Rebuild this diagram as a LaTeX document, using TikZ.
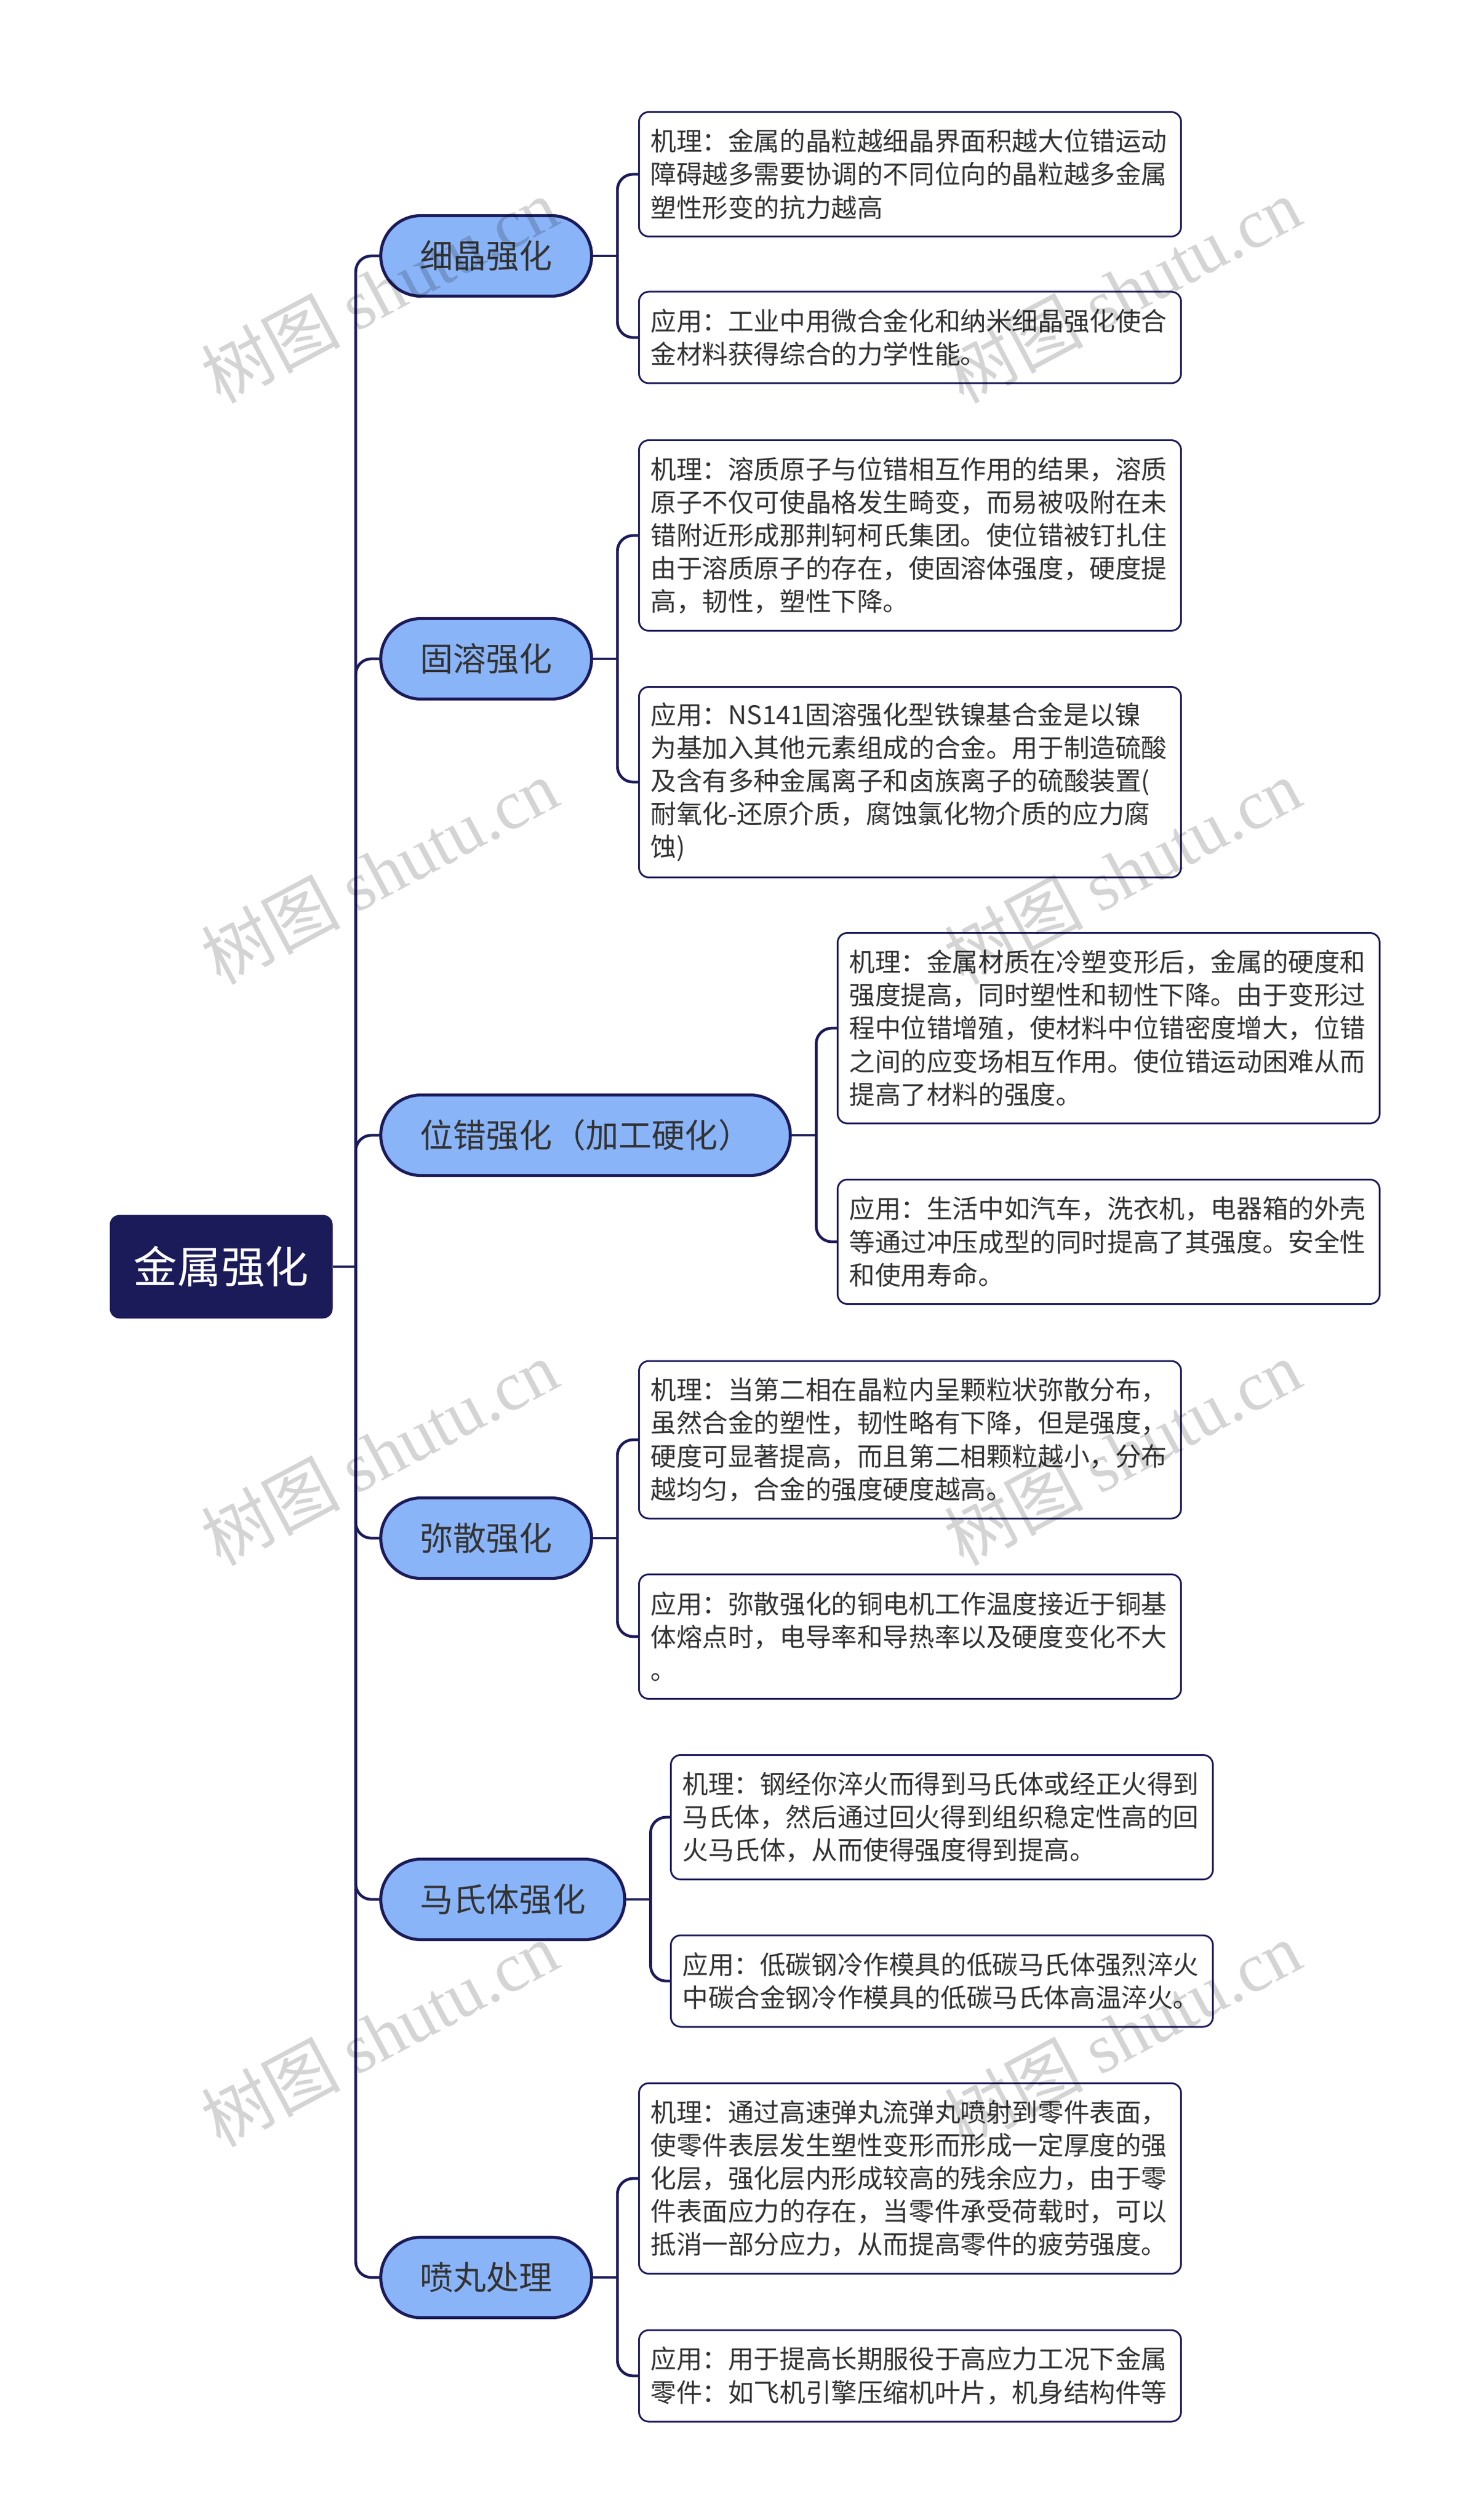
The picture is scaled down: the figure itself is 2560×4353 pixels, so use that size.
\documentclass[tikz,border=0pt]{standalone}
\usepackage{fontspec}
\setmainfont{Noto Sans CJK SC}
\newfontfamily\wmfont{Liberation Serif}
\usepackage{xcolor}
\usepackage{tikz}
\usetikzlibrary{positioning}
\definecolor{dunkelblau}{HTML}{1C1B5A}
\definecolor{hellblau}{HTML}{8AB4F8}
\definecolor{textgrau}{HTML}{333333}
\tikzset{
  Wurzel/.style={fill=dunkelblau, text=white, rounded corners=4.25pt,
    minimum width=96.25pt, minimum height=44.75pt,
    font=\fontsize{18.9pt}{22pt}\selectfont}, % Hauptthema
  Ast/.style={draw=dunkelblau, line width=1.3pt, fill=hellblau, text=textgrau,
    rounded corners=17.3pt, minimum height=34.75pt, inner xsep=16.9pt, inner ysep=0pt,
    anchor=west, font=\fontsize{14.3pt}{17pt}\selectfont}, % Zweige
  Blatt/.style={draw=dunkelblau, line width=0.75pt, fill=white, text=textgrau,
    rounded corners=4.2pt, text width=224pt, align=left, inner xsep=5pt, inner ysep=4pt,
    minimum height=11pt+14.25pt*#1, anchor=west,
    font=\fontsize{11.15pt}{14.3pt}\selectfont}, % Textkaesten, #1 = Zeilen
  Linie/.style={draw=dunkelblau, line width=1.2pt, rounded corners=6.75pt}, % Verbindungen
  Marke/.style={text=black, opacity=0.17, rotate=28,
    font=\fontsize{30pt}{30pt}\selectfont} % Wasserzeichen
}

\begin{document}
\begin{tikzpicture}[x=0.25pt, y=-0.25pt]
\useasboundingbox[fill=white] (0,0) rectangle (2560,4353);

%Thema
\node[Wurzel] (Metall) at (382,2188) {金属强化};

%Zweige
\node[Ast] (Feinkorn) at (655,442) {细晶强化};
\node[Ast] (Mischkristall) at (655,1138) {固溶强化};
\node[Ast] (Versetzung) at (655,1961) {位错强化（加工硬化）};
\node[Ast] (Dispersion) at (655,2657) {弥散强化};
\node[Ast] (Martensit) at (655,3281) {马氏体强化};
\node[Ast] (Kugelstrahl) at (655,3934) {喷丸处理};

%Textkaesten
\node[Blatt=3] (Feinkorn-M) at (1102,301)
  {机理：金属的晶粒越细晶界面积越大位错运动\\障碍越多需要协调的不同位向的晶粒越多金属\\塑性形变的抗力越高};
\node[Blatt=2] (Feinkorn-A) at (1102,583)
  {应用：工业中用微合金化和纳米细晶强化使合\\金材料获得综合的力学性能。};

\node[Blatt=5] (Mischkristall-M) at (1102,925)
  {机理：溶质原子与位错相互作用的结果，溶质\\原子不仅可使晶格发生畸变，而易被吸附在未\\错附近形成那荆轲柯氏集团。使位错被钉扎住\\由于溶质原子的存在，使固溶体强度，硬度提\\高，韧性，塑性下降。};
\node[Blatt=5] (Mischkristall-A) at (1102,1351)
  {应用：NS141固溶强化型铁镍基合金是以镍\\为基加入其他元素组成的合金。用于制造硫酸\\及含有多种金属离子和卤族离子的硫酸装置(\\耐氧化-还原介质，腐蚀氯化物介质的应力腐\\蚀)};

\node[Blatt=5] (Versetzung-M) at (1445,1776)
  {机理：金属材质在冷塑变形后，金属的硬度和\\强度提高，同时塑性和韧性下降。由于变形过\\程中位错增殖，使材料中位错密度增大，位错\\之间的应变场相互作用。使位错运动困难从而\\提高了材料的强度。};
\node[Blatt=3] (Versetzung-A) at (1445,2145)
  {应用：生活中如汽车，洗衣机，电器箱的外壳\\等通过冲压成型的同时提高了其强度。安全性\\和使用寿命。};

\node[Blatt=4] (Dispersion-M) at (1102,2487)
  {机理：当第二相在晶粒内呈颗粒状弥散分布，\\虽然合金的塑性，韧性略有下降，但是强度，\\硬度可显著提高，而且第二相颗粒越小，分布\\越均匀，合金的强度硬度越高。};
\node[Blatt=3] (Dispersion-A) at (1102,2827)
  {应用：弥散强化的铜电机工作温度接近于铜基\\体熔点时，电导率和导热率以及硬度变化不大\\。};

\node[Blatt=3] (Martensit-M) at (1157,3139)
  {机理：钢经你淬火而得到马氏体或经正火得到\\马氏体，然后通过回火得到组织稳定性高的回\\火马氏体，从而使得强度得到提高。};
\node[Blatt=2] (Martensit-A) at (1157,3422)
  {应用：低碳钢冷作模具的低碳马氏体强烈淬火\\中碳合金钢冷作模具的低碳马氏体高温淬火。};

\node[Blatt=5] (Kugelstrahl-M) at (1102,3763)
  {机理：通过高速弹丸流弹丸喷射到零件表面，\\使零件表层发生塑性变形而形成一定厚度的强\\化层，强化层内形成较高的残余应力，由于零\\件表面应力的存在，当零件承受荷载时，可以\\抵消一部分应力，从而提高零件的疲劳强度。};
\node[Blatt=2] (Kugelstrahl-A) at (1102,4104)
  {应用：用于提高长期服役于高应力工况下金属\\零件：如飞机引擎压缩机叶片，机身结构件等};

%Leitungen
\coordinate (Stamm) at ([xshift=9.75pt]Metall.east);
\draw[Linie] (Metall.east) -- (Stamm);
\foreach \z in {Feinkorn,Mischkristall,Versetzung,Dispersion,Martensit,Kugelstrahl}{
  \draw[Linie] (Stamm) |- (\z.west);
  \draw[Linie] (\z.east) -- ++(10.5pt,0pt) coordinate (\z-K);
  \draw[Linie] (\z-K) |- (\z-M.west);
  \draw[Linie] (\z-K) |- (\z-A.west);
}

%Wasserzeichen
\foreach \y in {501,1505,2509,3513,4517}
  \foreach \x in {655,1938}
    \node[Marke] (Marke-\x-\y) at (\x,\y) {树图 {\wmfont shutu.cn}};

\end{tikzpicture}
\end{document}
